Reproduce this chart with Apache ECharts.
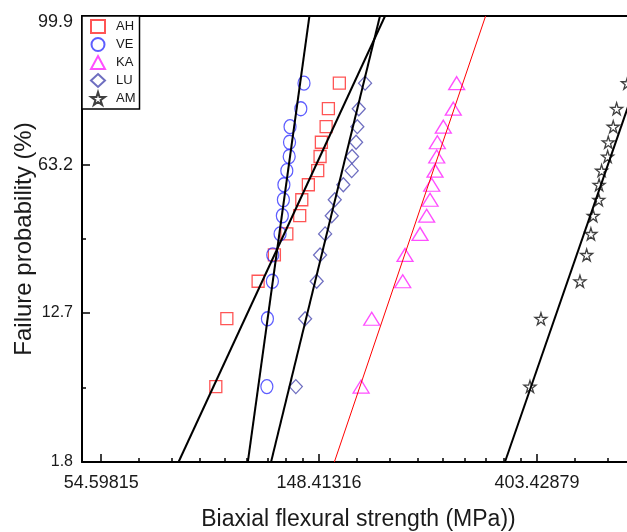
<!DOCTYPE html>
<html>
<head>
<meta charset="utf-8">
<script src="https://cdn.jsdelivr.net/npm/echarts@6/dist/echarts.min.js"></script>
<style>
  html, body { margin: 0; padding: 0; background: #fff; }
  #chart { width: 627px; height: 532px; }
</style>
</head>
<body>
<div id="chart"></div>
<script>
// failure probability (%) for ranks 1..14
const probability = [4.9, 11.8, 18.8, 25.7, 32.6, 39.6, 46.5, 53.5, 60.4, 67.4, 74.3, 81.3, 88.2, 95.1]

// biaxial flexural strength (MPa), sorted
const ahStrength = [92.4, 97.2, 112.2, 120.9, 128.0, 135.8, 137.1, 141.3, 147.5, 149.1, 150.0, 153.3, 154.9, 162.9]
const veStrength = [116.8, 117.1, 119.8, 120.0, 124.1, 125.4, 126.0, 126.3, 128.0, 129.4, 129.6, 129.9, 136.5, 138.5]
const kaStrength = [180.0, 189.0, 217.9, 220.2, 235.9, 243.2, 247.0, 248.9, 252.7, 254.7, 255.4, 262.5, 274.8, 279.1]
const luStrength = [133.4, 139.2, 146.8, 149.1, 152.6, 157.3, 159.5, 165.9, 172.4, 172.7, 175.9, 176.9, 178.1, 183.3]
const amStrength = [390.7, 410.9, 491.4, 506.8, 516.8, 522.3, 535.8, 536.6, 542.8, 558.0, 559.6, 572.5, 581.5, 611.0]

// weibull fit lines: modulus m and characteristic strength
const fitNames = ['AH', 'VE', 'KA', 'LU', 'AM']
const weibullModulus = [6.35, 21.3, 8.67, 12.04, 8.49]
const charStrength = [146.4, 129.2, 252.8, 166.1, 558.5]

// axis ticks
const xTicks = [54.59815, 148.41316, 403.42879]
const yTicks = [1.8, 12.7, 63.2, 99.9]

const weib = p => Math.log(-Math.log(1 - p / 100))

const xMin = Math.log(50)
const xMax = 6.45
const yMin = weib(1.8)
const yMax = 2.01

// minor x ticks: 9 linear steps inside each decade of e
const xMinor = []
for (let i = 0; i < xTicks.length; i++) {
  const a = xTicks[i]
  const b = Math.exp(Math.log(a) + 1)
  for (let k = 1; k < 9; k++) {
    const v = Math.log(a + k * (b - a) / 9)
    if (v < xMax) xMinor.push(v)
  }
}
const yMajor = yTicks.map(weib)
const yMinor = []
for (let i = 0; i < yMajor.length - 1; i++) yMinor.push((yMajor[i] + yMajor[i + 1]) / 2)

const star = 'path://M50,0 L61,35 L98,35 L68,57 L79,91 L50,70 L21,91 L32,57 L2,35 L39,35 Z'
const hollow = c => ({ color: 'rgba(255,255,255,0)', borderColor: c, borderWidth: 1.3 })

const pts = arr => arr.map((s, i) => [Math.log(s), weib(probability[i])])

const scatter = [
  { name: 'AH', data: ahStrength, symbol: 'rect', size: 12, color: '#ff2a2a' },
  { name: 'VE', data: veStrength, symbol: 'circle', size: [12, 14], color: '#3535ff' },
  { name: 'KA', data: kaStrength, symbol: 'triangle', size: [16, 13], color: '#ff22ff' },
  { name: 'LU', data: luStrength, symbol: 'diamond', size: [13, 14], color: '#4a4ab0' },
  { name: 'AM', data: amStrength, symbol: star, size: 12, color: '#111' }
].map(s => ({
  name: s.name,
  type: 'scatter',
  symbol: s.symbol,
  symbolSize: s.size,
  itemStyle: hollow(s.color),
  data: pts(s.data),
  z: 3
}))

const lines = fitNames.map((n, i) => {
  const m = weibullModulus[i]
  const c = Math.log(charStrength[i])
  return {
    name: n + ' fit',
    type: 'line',
    symbol: 'none',
    clip: true,
    lineStyle: { color: n === 'KA' ? '#ff0000' : '#000', width: n === 'KA' ? 1 : 2 },
    data: [[c + yMin / m, yMin], [c + yMax / m, yMax]],
    z: 4
  }
})

const labelFont = { fontFamily: 'Liberation Sans, Arial, sans-serif', color: '#1a1a1a' }

const chart = echarts.init(document.getElementById('chart'))
chart.setOption({
  animation: false,
  backgroundColor: '#fff',
  grid: { left: 82, right: -8, top: 16, bottom: 70, outerBoundsMode: 'none', containLabel: false },
  legend: {
    data: ['AH', 'VE', 'KA', 'LU', 'AM'],
    orient: 'vertical',
    left: 82,
    top: 16,
    padding: [3, 4, 3, 8],
    itemGap: 3,
    itemWidth: 14,
    itemHeight: 13,
    borderColor: '#000',
    borderWidth: 1.5,
    backgroundColor: '#fff',
    textStyle: { ...labelFont, fontSize: 13, padding: [0, 0, 0, 6] }
  },
  xAxis: [
    {
      type: 'value', position: 'bottom', min: xMin, max: xMax,
      name: 'Biaxial flexural strength (MPa))',
      nameLocation: 'middle', nameGap: 46, nameMoveOverlap: false,
      nameTextStyle: { ...labelFont, fontSize: 23 },
      axisLine: { onZero: false, lineStyle: { color: '#000', width: 2 } },
      axisTick: { inside: true, length: 8, lineStyle: { color: '#000', width: 1.5 }, customValues: xTicks.map(Math.log) },
      axisLabel: { ...labelFont, fontSize: 18, margin: 12, customValues: xTicks.map(Math.log),
        formatter: v => xTicks.find(t => Math.abs(Math.log(t) - v) < 1e-6).toFixed(5) },
      splitLine: { show: false }
    },
    {
      type: 'value', position: 'bottom', min: xMin, max: xMax,
      axisLine: { show: false, onZero: false },
      axisTick: { inside: true, length: 4, lineStyle: { color: '#000', width: 1.5 }, customValues: xMinor },
      axisLabel: { show: false },
      splitLine: { show: false }
    },
    {
      type: 'value', position: 'top', min: xMin, max: xMax,
      axisLine: { onZero: false, lineStyle: { color: '#000', width: 2 } },
      axisTick: { show: false }, axisLabel: { show: false }, splitLine: { show: false }
    }
  ],
  yAxis: [
    {
      type: 'value', position: 'left', min: yMin, max: yMax,
      name: 'Failure probability (%)',
      nameLocation: 'middle', nameGap: 46, nameMoveOverlap: false,
      nameTextStyle: { ...labelFont, fontSize: 24 },
      axisLine: { onZero: false, lineStyle: { color: '#000', width: 2 } },
      axisTick: { inside: true, length: 8, lineStyle: { color: '#000', width: 1.5 }, customValues: yMajor },
      axisLabel: { ...labelFont, margin: 9, customValues: yMajor,
        formatter: v => {
          const t = yTicks.find(p => Math.abs(weib(p) - v) < 1e-6)
          return t > 50 ? '{a|' + t + '}' : '{b|' + t + '}'
        },
        rich: { a: { ...labelFont, fontSize: 18 }, b: { ...labelFont, fontSize: 16 } }
      },
      splitLine: { show: false }
    },
    {
      type: 'value', position: 'left', min: yMin, max: yMax,
      axisLine: { show: false, onZero: false },
      axisTick: { inside: true, length: 4, lineStyle: { color: '#000', width: 1.5 }, customValues: yMinor },
      axisLabel: { show: false },
      splitLine: { show: false }
    }
  ],
  series: scatter.concat(lines)
})
</script>
</body>
</html>
